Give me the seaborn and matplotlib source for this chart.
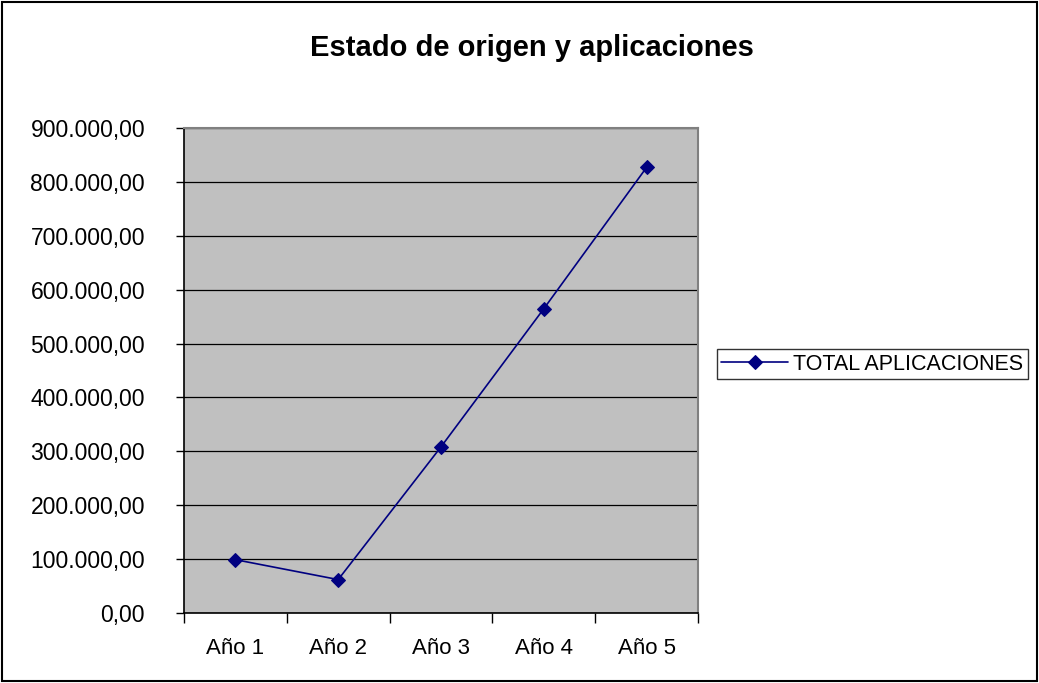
import pandas as pd
import matplotlib.pyplot as plt
import seaborn as sns
from matplotlib.ticker import FuncFormatter, FixedLocator

# Data
anios = ["Año 1", "Año 2", "Año 3", "Año 4", "Año 5"]
total_aplicaciones = [99000, 62000, 308500, 565000, 827500]

df = pd.DataFrame({"Año": anios, "TOTAL APLICACIONES": total_aplicaciones})

sns.set_style("white")
plt.rcParams["font.family"] = ["Liberation Sans", "DejaVu Sans"]
plt.rcParams["text.color"] = "black"
plt.rcParams["xtick.color"] = "black"
plt.rcParams["ytick.color"] = "black"

fig = plt.figure(figsize=(10.39, 6.83), dpi=100)
ax = fig.add_axes([0.177, 0.1025, 0.495, 0.71])
ax.set_facecolor("#C0C0C0")

sns.lineplot(data=df, x="Año", y="TOTAL APLICACIONES", ax=ax, sort=False,
             color="#000080", marker="D", markersize=7, linewidth=1.2,
             markeredgecolor="#000080", label="TOTAL APLICACIONES")

# y axis
ax.set_ylim(0, 900000)
ax.set_yticks(range(0, 900001, 100000))
ax.yaxis.set_major_formatter(FuncFormatter(
    lambda v, p: f"{v:,.2f}".replace(",", "X").replace(".", ",").replace("X", ".")))
ax.grid(axis="y", color="black", linewidth=0.9)
ax.set_axisbelow(True)

# x axis: ticks between categories, labels centered
ax.set_xlim(-0.5, len(anios) - 0.5)
ax.xaxis.set_major_locator(FixedLocator([i - 0.5 for i in range(len(anios) + 1)]))
ax.xaxis.set_major_formatter(FuncFormatter(lambda v, p: ""))
ax.xaxis.set_minor_locator(FixedLocator(range(len(anios))))
ax.set_xticklabels(anios, minor=True)
ax.tick_params(axis="x", which="major", bottom=True, direction="out", length=7, width=1, color="black")
ax.tick_params(axis="x", which="minor", bottom=True, length=0, pad=18, labelsize=16)
ax.tick_params(axis="y", left=True, direction="out", length=6, width=1, color="black",
               labelsize=16.5, pad=22)

ax.set_xlabel("")
ax.set_ylabel("")

for s in ["left", "bottom"]:
    ax.spines[s].set_color("black")
    ax.spines[s].set_linewidth(1.2)
for s in ["top", "right"]:
    ax.spines[s].set_color("#808080")
    ax.spines[s].set_linewidth(1.5)

fig.text(0.512, 0.93, "Estado de origen y aplicaciones", ha="center", va="center",
         fontsize=21, fontweight="bold")

leg = ax.legend(loc="center left", bbox_to_anchor=(0.69, 0.467),
                bbox_transform=fig.transFigure, frameon=True, fancybox=False,
                edgecolor="black", fontsize=15.5, handlelength=3.1,
                borderpad=0.2, handletextpad=0.25, borderaxespad=0)
leg.get_frame().set_linewidth(1)

# outer chart border
fig.patches.append(plt.Rectangle((0.002, 0.003), 0.996, 0.994, transform=fig.transFigure,
                                 fill=False, edgecolor="black", linewidth=1.5))

fig.savefig("out.png", dpi=100)
